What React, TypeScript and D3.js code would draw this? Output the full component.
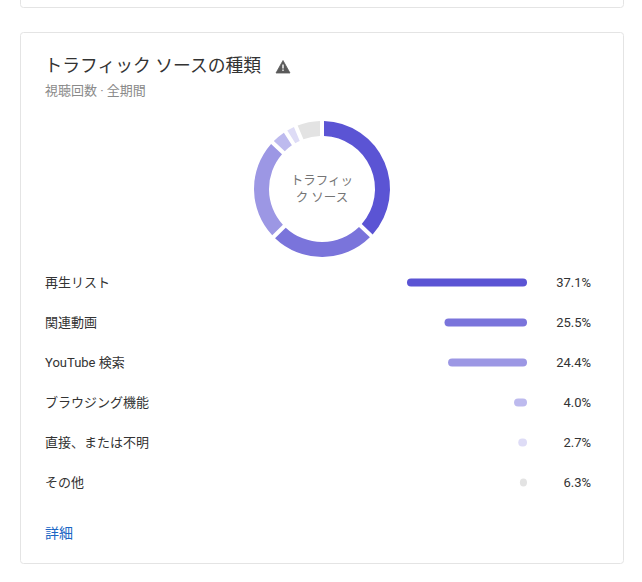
import React from "react";
import * as d3 from "d3";

const categories = ["再生リスト", "関連動画", "YouTube 検索", "ブラウジング機能", "直接、または不明", "その他"];
const shareValues = [37.1, 25.5, 24.4, 4.0, 2.7, 6.3];
const shareLabels = ["37.1%", "25.5%", "24.4%", "4.0%", "2.7%", "6.3%"];
// The bar of "その他" is drawn far shorter than its share in the reference.
const barValues = [37.1, 25.5, 24.4, 4.0, 2.7, 2.2];
const colors = ["#5b54d4", "#7a74db", "#9c97e4", "#bdbaee", "#dedcf6", "#e3e3e3"];

const FONT = "Roboto, 'Noto Sans CJK JP', sans-serif";
const CX = 322;
const CY = 189;

export default function App() {
  const pie = d3.pie<number>().sort(null);
  const arc = d3.arc<d3.PieArcDatum<number>>().innerRadius(53).outerRadius(68).padAngle(0.066).padRadius(61);
  const arcs = pie(shareValues);
  const barX = d3.scaleLinear().domain([0, 37.1]).range([0, 120]);
  const rowY = d3.scaleLinear().domain([0, 5]).range([282.5, 482.5]);
  return (
    <svg
      width={642}
      height={582}
      viewBox="0 0 642 582"
      style={{ position: "absolute", left: 0, top: 0, background: "#fff", fontFamily: FONT }}
    >
      <path d="M20.5 -2 V4.5 a3 3 0 0 0 3 3 H620.5 a3 3 0 0 0 3 -3 V-2" fill="none" stroke="#e4e4e4" />
      <rect x={20.5} y={32.5} width={603} height={531} rx={3} fill="#fff" stroke="#e4e4e4" />

      <text x={44.5} y={72} fontSize={17.8} fill="#333333">トラフィック ソースの種類</text>
      <path d="M283 60.5 L290 73 H276 Z" fill="#5a5a5a" stroke="#5a5a5a" strokeLinejoin="round" strokeWidth={0.8} />
      <rect x={282.3} y={64.5} width={1.4} height={4} fill="#fff" />
      <rect x={282.3} y={69.5} width={1.4} height={1.4} fill="#fff" />
      <text x={45} y={94.5} fontSize={13} fill="#8a8a8a">視聴回数 · 全期間</text>

      <g transform={`translate(${CX},${CY})`}>
        {arcs.map((d, i) => (
          <path key={categories[i]} d={arc(d) ?? ""} fill={colors[i]} />
        ))}
      </g>
      <text x={CX} y={184.5} fontSize={12.5} fill="#757575" textAnchor="middle">トラフィッ</text>
      <text x={CX} y={201.5} fontSize={12.5} fill="#757575" textAnchor="middle">ク ソース</text>

      {categories.map((c, i) => {
        const y = rowY(i);
        const w = barX(barValues[i]);
        return (
          <g key={c}>
            <text x={45} y={y + 4} fontSize={13} fill="#333333">{c}</text>
            <rect x={527 - w} y={y - 4} width={w} height={8} rx={4} fill={colors[i]} />
            <text x={591} y={y + 4.5} fontSize={13} fill="#333333" textAnchor="end">{shareLabels[i]}</text>
          </g>
        );
      })}

      <text x={45} y={538} fontSize={14} fill="#1a66c4">詳細</text>
    </svg>
  );
}
